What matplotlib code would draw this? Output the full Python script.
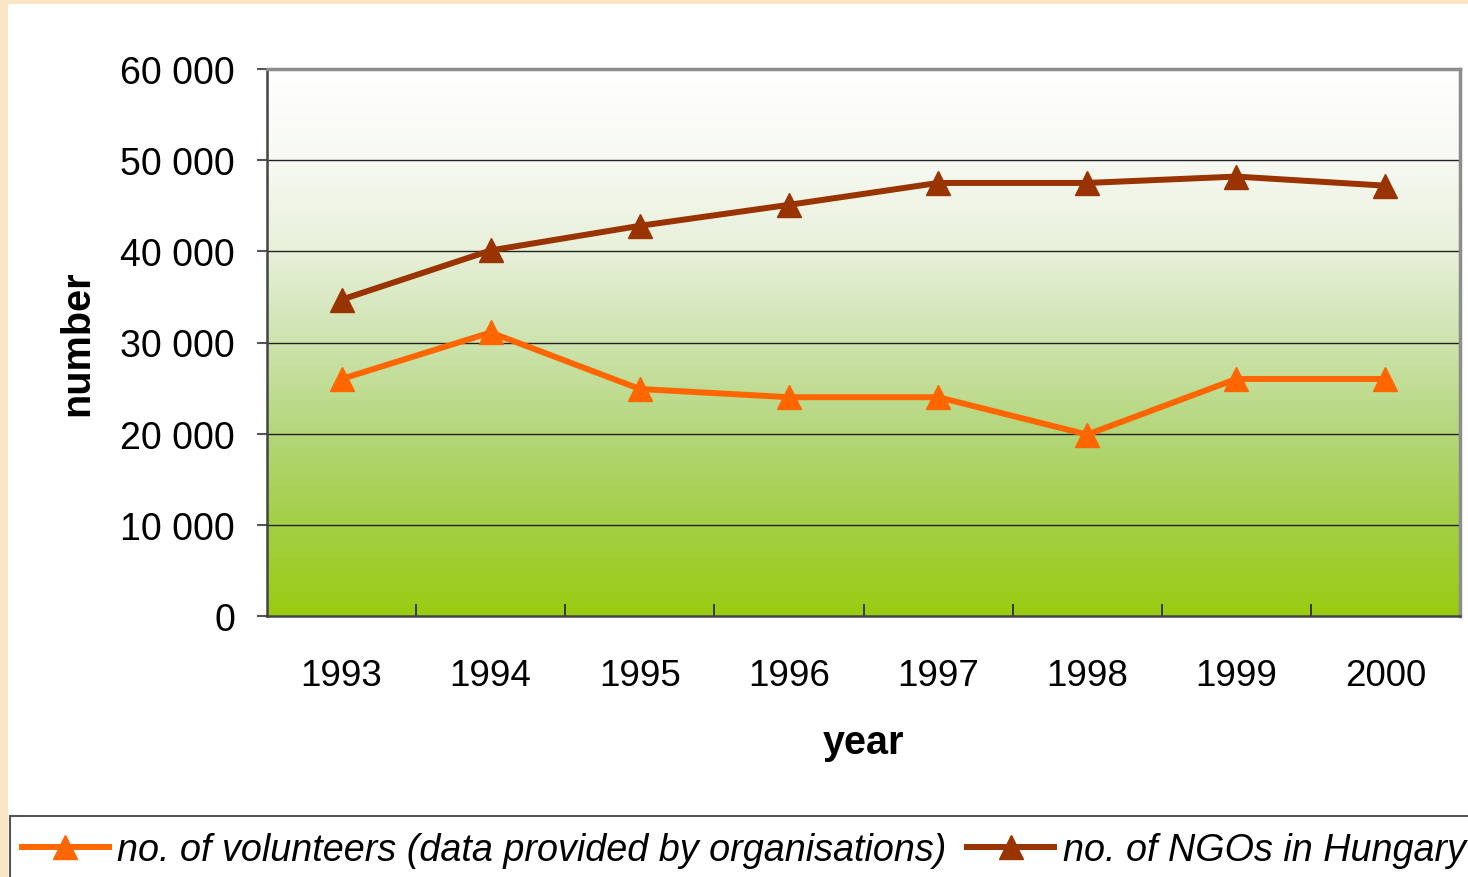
import numpy as np
import matplotlib
matplotlib.use("Agg")
from matplotlib import pyplot as plt
from matplotlib.colors import LinearSegmentedColormap
from matplotlib.patches import Rectangle

plt.rcParams['font.family'] = ['Liberation Sans', 'DejaVu Sans']

years = ['1993', '1994', '1995', '1996', '1997', '1998', '1999', '2000']
volunteers = [26000, 31100, 24900, 24000, 24000, 19900, 26000, 26000]
ngos = [34700, 40100, 42800, 45100, 47500, 47500, 48200, 47200]
yticks = [0, 10000, 20000, 30000, 40000, 50000, 60000]
ytick_labels = ['0', '10 000', '20 000', '30 000', '40 000', '50 000', '60 000']

fig = plt.figure(figsize=(14.68, 8.78), dpi=100)
fig.patch.set_facecolor('#FAE5C5')
# white page inside the beige frame
fig.patches.append(Rectangle((8/1468, 0), 1, 1 - 5/878, transform=fig.transFigure,
                             facecolor='white', edgecolor='none', zorder=-1))

ax = fig.add_axes([267/1468, 261/878, 1193/1468, 547/878])
x = np.arange(len(years))

# gradient background
grad_cmap = LinearSegmentedColormap.from_list('bg', [
    (0.0, '#9ACC12'), (1/6, '#A3CF45'), (2/6, '#B4D67A'), (3/6, '#CDE3AE'),
    (4/6, '#E8F0DA'), (5/6, '#F7F9F2'), (1.0, '#FFFFFF')])
grad = np.linspace(0, 1, 256).reshape(-1, 1)
ax.imshow(grad, cmap=grad_cmap, aspect='auto', origin='lower',
          extent=(-0.5, len(years) - 0.5, 0, 60000), zorder=0)

for yv in yticks[1:-1]:
    ax.axhline(yv, color='#222222', lw=1.0, zorder=1)

ax.plot(x, volunteers, color='#FF6600', lw=4.3, marker='^', markersize=17,
        label='no. of volunteers (data provided by organisations)', zorder=3)
ax.plot(x, ngos, color='#993300', lw=4.3, marker='^', markersize=17,
        label='no. of NGOs in Hungary', zorder=3)

ax.set_xlim(-0.5, len(years) - 0.5)
ax.set_ylim(0, 60000)
ax.set_yticks(yticks)
ax.set_yticklabels(ytick_labels, fontsize=27)
ax.tick_params(axis='y', direction='out', length=7, width=1.5, color='#555555', pad=16)
ax.set_xticks(x)
ax.set_xticklabels(years, fontsize=26.5)
ax.set_xticks(np.arange(0.5, len(years) - 1, 1), minor=True)
ax.tick_params(axis='x', which='major', length=0, pad=30)
ax.tick_params(axis='x', which='minor', direction='in', length=9, width=1.2, color='#222222')

ax.set_xlabel('year', fontsize=28.5, fontweight='bold', labelpad=22)
ax.set_ylabel('number', fontsize=28.5, fontweight='bold', labelpad=17)

for side in ['left', 'bottom']:
    ax.spines[side].set_color('#444444')
    ax.spines[side].set_linewidth(1.8)
for side in ['top', 'right']:
    ax.spines[side].set_color('#8C8C8C')
    ax.spines[side].set_linewidth(2.5)

# legend box
fig.patches.append(Rectangle((10/1468, -0.01), 1.05, (878 - 817)/878 + 0.01,
                             transform=fig.transFigure, facecolor='white',
                             edgecolor='#555555', lw=1.5, zorder=1))
leg = fig.legend(loc='center left', bbox_to_anchor=(22/1468, 27/878), ncol=2,
                 frameon=False, prop={'style': 'italic', 'size': 27.2},
                 handlelength=2.3, handletextpad=0.22, columnspacing=0.55,
                 borderpad=0, borderaxespad=0)

fig.savefig('out.png', dpi=100)
